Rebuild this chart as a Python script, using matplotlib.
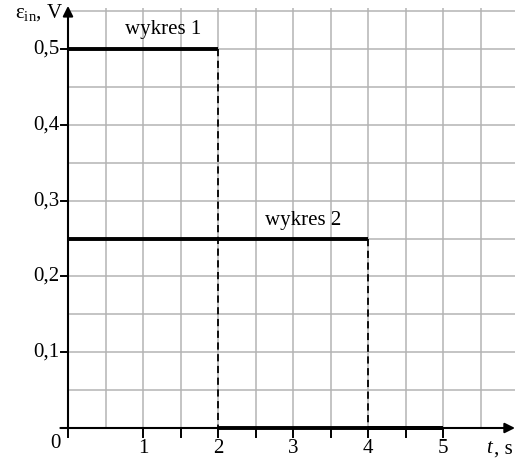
import matplotlib.pyplot as plt
import numpy as np

# dane
t_edges_1 = [0, 2, 5]      # s
eps_1 = [0.5, 0.0]         # V
t_edges_2 = [0, 4, 5]
eps_2 = [0.25, 0.0]

x_ticks = [1, 2, 3, 4, 5]
y_ticks = [0.1, 0.2, 0.3, 0.4, 0.5]
y_tick_labels = ['0,1', '0,2', '0,3', '0,4', '0,5']

plt.rcParams['font.family'] = ['Liberation Serif', 'DejaVu Serif']
plt.rcParams['mathtext.fontset'] = 'stix'

FS = 15

fig = plt.figure(figsize=(5.15, 4.59), dpi=100)
ax = fig.add_axes([68 / 515, 31 / 459, 447 / 515, 420 / 459])
xmax = 447 / 75
ymax = 420 / 758
ax.set_xlim(0, xmax)
ax.set_ylim(0, ymax)

# siatka
for gx in np.arange(0.5, xmax, 0.5):
    ax.axvline(gx, color='#b4b4b4', lw=1.1, zorder=1)
for gy in np.arange(0.05, ymax, 0.05):
    ax.axhline(gy, color='#b4b4b4', lw=1.1, zorder=1)

for s in ax.spines.values():
    s.set_visible(False)


def draw_step(t_edges, eps):
    for i, e in enumerate(eps):
        ax.plot([t_edges[i], t_edges[i + 1]], [e, e], color='black', lw=2.8,
                solid_capstyle='butt', zorder=6, clip_on=False)
        if i > 0:
            ax.plot([t_edges[i], t_edges[i]], [eps[i - 1], e], color='black',
                    lw=1.3, ls=(0, (4, 2.5)), zorder=3)


draw_step(t_edges_1, eps_1)
draw_step(t_edges_2, eps_2)

ax.text(1.27, 0.513, 'wykres 1', fontsize=FS, ha='center', va='bottom')
ax.text(3.13, 0.261, 'wykres 2', fontsize=FS, ha='center', va='bottom')

# osie ze strzalkami
ax.annotate('', xy=(1.0, 0), xytext=(-0.017, 0), xycoords='axes fraction',
            arrowprops=dict(arrowstyle='-|>', color='black', lw=1.5,
                            mutation_scale=15, shrinkA=0, shrinkB=0))
ax.annotate('', xy=(0, 1.005), xytext=(0, 0), xycoords='axes fraction',
            arrowprops=dict(arrowstyle='-|>', color='black', lw=1.5,
                            mutation_scale=15, shrinkA=0, shrinkB=0))

ax.set_xticks([])
ax.set_yticks([])
for xt in [0, 1, 1.5, 2, 2.5, 3, 3.5, 4, 4.5, 5]:
    ax.plot([xt, xt], [0, -0.012], color='black', lw=1.4, clip_on=False)
for xt in x_ticks:
    ax.text(xt, -0.015, str(xt), fontsize=FS, ha='center', va='top')
for yt, lab in zip(y_ticks, y_tick_labels):
    ax.plot([-0.1, 0], [yt, yt], color='black', lw=1.4, clip_on=False)
    ax.text(-0.11, yt, lab, fontsize=FS, ha='right', va='center')

ax.text(-0.1, -0.008, '0', fontsize=FS, ha='right', va='top')
ax.text(5.58, -0.015, 't', fontsize=FS, style='italic', ha='left', va='top')
ax.text(5.68, -0.015, ', s', fontsize=FS, ha='left', va='top')
ax.text(-0.06, 0.548, r'$\mathregular{\varepsilon_{in}}$, V', fontsize=FS,
        ha='right', va='center')

fig.savefig('out.png', dpi=100)
